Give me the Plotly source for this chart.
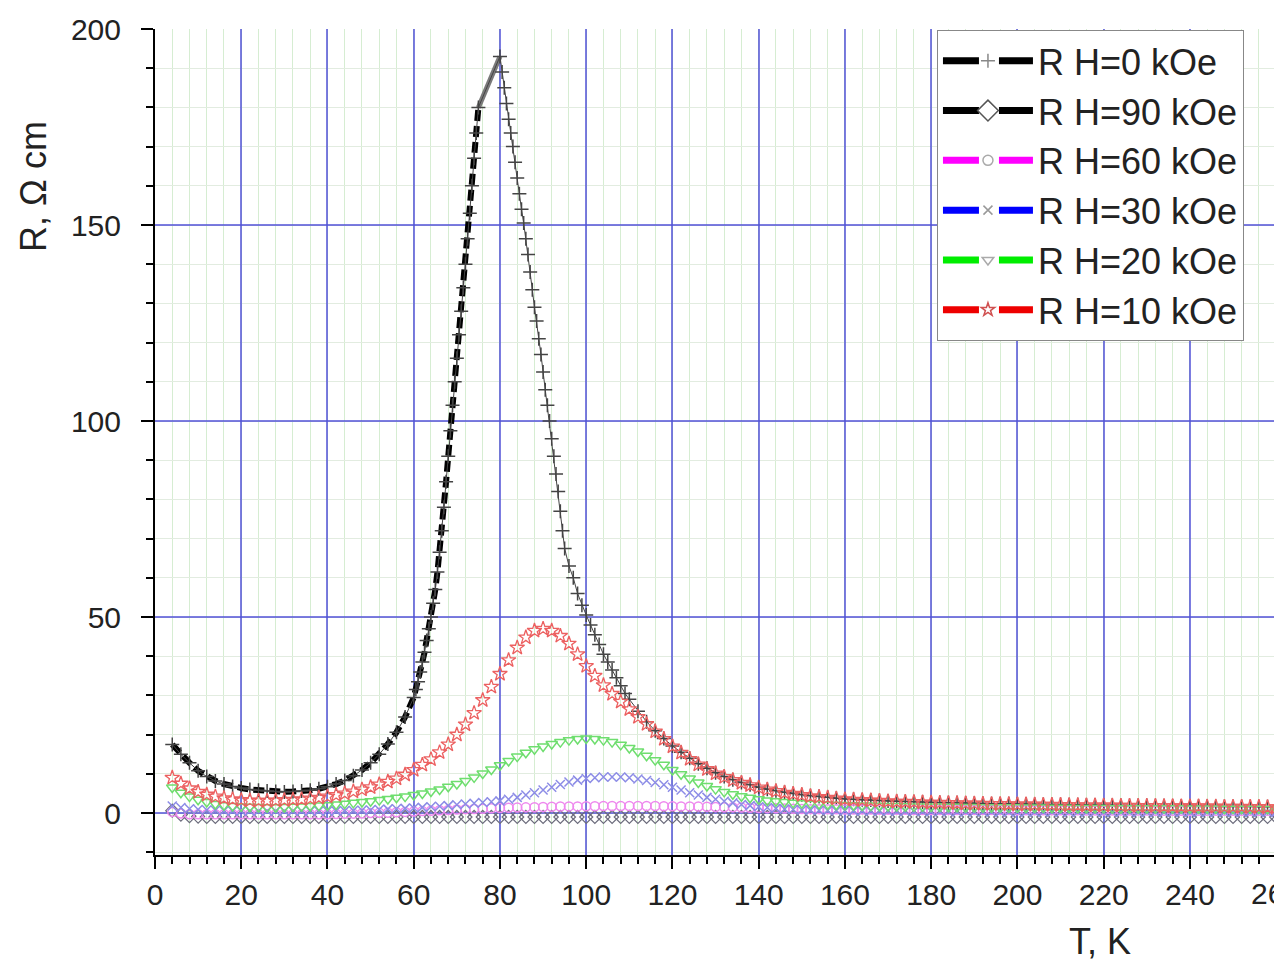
import plotly.graph_objects as go

# ---------------- data ----------------
# temperature grid (K) for the field-on curves
T = [4, 6, 8, 10, 12, 14, 16, 18, 20, 22,
     24, 26, 28, 30, 32, 34, 36, 38, 40, 42,
     44, 46, 48, 50, 52, 54, 56, 58, 60, 62,
     64, 66, 68, 70, 72, 74, 76, 78, 80, 82,
     84, 86, 88, 90, 92, 94, 96, 98, 100, 102,
     104, 106, 108, 110, 112, 114, 116, 118, 120, 122,
     124, 126, 128, 130, 132, 134, 136, 138, 140, 142,
     144, 146, 148, 150, 152, 154, 156, 158, 160, 162,
     164, 166, 168, 170, 172, 174, 176, 178, 180, 182,
     184, 186, 188, 190, 192, 194, 196, 198, 200, 202,
     204, 206, 208, 210, 212, 214, 216, 218, 220, 222,
     224, 226, 228, 230, 232, 234, 236, 238, 240, 242,
     244, 246, 248, 250, 252, 254, 256, 258, 260]

R_H90 = [0.6, -0.4, -0.8, -0.9, -1.0, -1.0, -1.0, -1.0, -1.0, -1.0,
         -1.0, -1.0, -1.0, -1.0, -1.0, -1.0, -1.0, -1.0, -1.0, -1.0,
         -1.0, -1.0, -1.0, -1.0, -1.0, -1.0, -1.0, -1.0, -1.0, -1.0,
         -1.0, -1.0, -1.0, -1.0, -1.0, -1.0, -1.0, -1.0, -1.0, -1.0,
         -1.0, -1.0, -1.0, -1.0, -1.0, -1.0, -1.0, -1.0, -1.0, -1.0,
         -1.0, -1.0, -1.0, -1.0, -1.0, -1.0, -1.0, -1.0, -1.0, -1.0,
         -1.0, -1.0, -1.0, -1.0, -1.0, -1.0, -1.0, -1.0, -1.0, -1.0,
         -1.0, -1.0, -1.0, -1.0, -1.0, -1.0, -1.0, -1.0, -1.0, -1.0,
         -1.0, -1.0, -1.0, -1.0, -1.0, -1.0, -1.0, -1.0, -1.0, -1.0,
         -1.0, -1.0, -1.0, -1.0, -1.0, -1.0, -1.0, -1.0, -1.0, -1.0,
         -1.0, -1.0, -1.0, -1.0, -1.0, -1.0, -1.0, -1.0, -1.0, -1.0,
         -1.0, -1.0, -1.0, -1.0, -1.0, -1.0, -1.0, -1.0, -1.0, -1.0,
         -1.0, -1.0, -1.0, -1.0, -1.0, -1.0, -1.0, -1.0, -1.0]

R_H60 = [0.3, -0.1, -0.3, -0.3, -0.3, -0.3, -0.3, -0.3, -0.3, -0.3,
         -0.3, -0.3, -0.3, -0.3, -0.3, -0.3, -0.3, -0.3, -0.3, -0.25,
         -0.2, -0.15, -0.1, 0.0, 0.05, 0.1, 0.2, 0.3, 0.4, 0.5,
         0.6, 0.7, 0.8, 0.9, 1.0, 1.05, 1.1, 1.2, 1.3, 1.35,
         1.4, 1.45, 1.5, 1.55, 1.6, 1.65, 1.7, 1.7, 1.75, 1.75,
         1.8, 1.8, 1.8, 1.8, 1.8, 1.8, 1.8, 1.75, 1.75, 1.7,
         1.7, 1.65, 1.6, 1.55, 1.5, 1.45, 1.4, 1.35, 1.3, 1.25,
         1.2, 1.15, 1.1, 1.05, 1.0, 1.0, 0.95, 0.95, 0.9, 0.9,
         0.9, 0.9, 0.85, 0.85, 0.85, 0.85, 0.8, 0.8, 0.8, 0.8,
         0.8, 0.8, 0.75, 0.75, 0.75, 0.75, 0.75, 0.75, 0.7, 0.7,
         0.7, 0.7, 0.7, 0.7, 0.7, 0.7, 0.65, 0.65, 0.65, 0.65,
         0.65, 0.65, 0.65, 0.65, 0.6, 0.6, 0.6, 0.6, 0.6, 0.6,
         0.6, 0.6, 0.6, 0.6, 0.6, 0.6, 0.6, 0.6, 0.6]

R_H30 = [1.8, 1.4, 1.1, 0.9, 0.8, 0.7, 0.6, 0.55, 0.5, 0.5,
         0.5, 0.5, 0.5, 0.5, 0.5, 0.5, 0.5, 0.5, 0.5, 0.55,
         0.6, 0.65, 0.7, 0.8, 0.9, 1.0, 1.1, 1.2, 1.3, 1.45,
         1.6, 1.75, 1.9, 2.1, 2.3, 2.5, 2.7, 2.9, 3.1, 3.5,
         4.0, 4.6, 5.2, 5.9, 6.6, 7.3, 7.9, 8.4, 8.8, 9.0,
         9.2, 9.2, 9.2, 9.0, 8.7, 8.3, 7.8, 7.2, 6.6, 5.9,
         5.2, 4.6, 4.0, 3.5, 3.0, 2.6, 2.2, 1.9, 1.6, 1.4,
         1.2, 1.0, 0.9, 0.8, 0.75, 0.7, 0.65, 0.6, 0.6, 0.55,
         0.55, 0.5, 0.5, 0.5, 0.45, 0.45, 0.45, 0.4, 0.4, 0.4,
         0.4, 0.35, 0.35, 0.35, 0.35, 0.3, 0.3, 0.3, 0.3, 0.3,
         0.3, 0.3, 0.25, 0.25, 0.25, 0.25, 0.25, 0.25, 0.2, 0.2,
         0.2, 0.2, 0.2, 0.2, 0.2, 0.2, 0.2, 0.2, 0.2, 0.2,
         0.2, 0.2, 0.2, 0.2, 0.2, 0.2, 0.2, 0.2, 0.2]

R_H20 = [6.5, 5.2, 4.2, 3.4, 2.8, 2.3, 2.0, 1.8, 1.7, 1.6,
         1.55, 1.5, 1.5, 1.55, 1.6, 1.7, 1.8, 1.9, 2.0, 2.2,
         2.4, 2.6, 2.8, 3.0, 3.3, 3.6, 3.9, 4.2, 4.6, 5.0,
         5.5, 6.0, 6.7, 7.4, 8.2, 9.1, 10.1, 11.1, 12.2, 13.3,
         14.4, 15.4, 16.3, 17.0, 17.6, 18.1, 18.6, 18.9, 19.0, 18.9,
         18.6, 18.1, 17.4, 16.6, 15.7, 14.6, 13.5, 12.3, 11.0, 9.9,
         8.8, 7.8, 6.9, 6.1, 5.4, 4.8, 4.3, 3.9, 3.5, 3.2,
         3.0, 2.8, 2.6, 2.5, 2.4, 2.3, 2.2, 2.1, 2.05, 2.0,
         1.95, 1.9, 1.85, 1.8, 1.8, 1.75, 1.7, 1.7, 1.65, 1.65,
         1.6, 1.6, 1.55, 1.55, 1.5, 1.5, 1.5, 1.45, 1.45, 1.4,
         1.4, 1.4, 1.35, 1.35, 1.35, 1.3, 1.3, 1.3, 1.3, 1.25,
         1.25, 1.25, 1.25, 1.2, 1.2, 1.2, 1.2, 1.2, 1.15, 1.15,
         1.15, 1.15, 1.1, 1.1, 1.1, 1.1, 1.1, 1.05, 1.05]

R_H10 = [9.0, 7.5, 6.3, 5.4, 4.7, 4.2, 3.8, 3.5, 3.3, 3.2,
         3.1, 3.1, 3.2, 3.3, 3.4, 3.5, 3.7, 3.9, 4.2, 4.6,
         5.0, 5.5, 6.0, 6.6, 7.3, 8.0, 8.8, 9.8, 11.0, 12.3,
         13.7, 15.5, 17.5, 20.0, 22.6, 25.5, 28.8, 32.2, 35.5, 39.0,
         42.2, 44.8, 46.5, 47.0, 46.5, 45.2, 43.2, 40.5, 37.5, 35.0,
         32.6, 30.4, 28.4, 26.5, 24.5, 22.7, 20.8, 18.9, 17.0, 15.4,
         13.8, 12.4, 11.2, 10.1, 9.2, 8.4, 7.7, 7.1, 6.5, 6.0,
         5.6, 5.2, 4.9, 4.6, 4.3, 4.1, 3.9, 3.7, 3.5, 3.4,
         3.3, 3.2, 3.1, 3.0, 2.9, 2.85, 2.8, 2.7, 2.65, 2.6,
         2.55, 2.5, 2.45, 2.4, 2.35, 2.3, 2.3, 2.25, 2.2, 2.2,
         2.15, 2.1, 2.1, 2.05, 2.0, 2.0, 1.95, 1.95, 1.9, 1.9,
         1.85, 1.85, 1.8, 1.8, 1.8, 1.75, 1.75, 1.7, 1.7, 1.7,
         1.65, 1.65, 1.6, 1.6, 1.6, 1.55, 1.55, 1.5, 1.5]

# zero-field curve has its own (denser around the peak) temperature grid
T_H0 = [4, 6, 8, 10, 12, 14, 16, 18, 20, 22,
        24, 26, 28, 30, 32, 34, 36, 38, 40, 42,
        44, 46, 48, 50, 52, 54, 56, 58,
        60, 60.5, 61, 61.5, 62, 62.5, 63, 63.5, 64, 64.5,
        65, 65.5, 66, 66.5, 67, 67.5, 68, 68.5, 69, 69.5,
        70, 70.5, 71, 71.5, 72, 72.5, 73, 73.5, 74, 74.5, 75,
        80, 80.5, 81, 81.5, 82, 82.5, 83, 83.5, 84, 84.5,
        85, 85.5, 86, 86.5, 87, 87.5, 88, 88.5, 89, 89.5,
        90, 90.5, 91, 91.5, 92, 92.5, 93, 93.5, 94, 94.5, 95,
        96, 97, 98, 99, 100, 101, 102, 103, 104, 105,
        106, 107, 108, 109, 110,
        112, 114, 116, 118, 120, 122, 124, 126, 128, 130,
        132, 134, 136, 138, 140, 142, 144, 146, 148, 150,
        152, 154, 156, 158, 160, 162, 164, 166, 168, 170,
        172, 174, 176, 178, 180, 182, 184, 186, 188, 190,
        192, 194, 196, 198, 200, 202, 204, 206, 208, 210,
        212, 214, 216, 218, 220, 222, 224, 226, 228, 230,
        232, 234, 236, 238, 240, 242, 244, 246, 248, 250,
        252, 254, 256, 258, 260]

R_H0 = [17.5, 15.0, 12.8, 10.8, 9.3, 8.2, 7.4, 6.8, 6.4, 6.0,
        5.8, 5.6, 5.5, 5.4, 5.5, 5.6, 5.8, 6.2, 6.7, 7.4,
        8.3, 9.5, 11.0, 12.8, 15.0, 17.6, 20.6, 24.5,
        29.5, 31.5, 33.5, 36.0, 38.5, 41.0, 44.0, 47.0, 50.0, 53.5,
        57.0, 61.5, 66.5, 72.0, 78.0, 84.5, 91.0, 97.5, 104.0, 110.0,
        116.0, 122.0, 128.0, 134.0, 140.0, 146.5, 153.0, 160.0, 167.0, 173.5, 180.0,
        193.0, 189.0, 185.0, 181.0, 177.0, 173.5, 170.0, 166.0, 162.0, 158.0,
        154.0, 150.5, 146.5, 142.5, 138.0, 133.5, 129.0, 125.5, 121.0, 117.0,
        112.5, 108.0, 104.0, 100.0, 95.5, 91.0, 86.5, 82.0, 77.0, 72.0, 67.5,
        63.0, 60.0, 56.0, 53.0, 50.5, 48.0, 45.5, 43.0, 40.5, 38.5,
        36.5, 34.5, 32.5, 30.5, 29.0,
        26.0, 23.3, 21.0, 19.0, 17.1, 15.5, 14.0, 12.6, 11.4, 10.3,
        9.3, 8.5, 7.8, 7.2, 6.6, 6.1, 5.7, 5.3, 5.0, 4.7,
        4.4, 4.2, 4.0, 3.8, 3.6, 3.5, 3.4, 3.3, 3.2, 3.1,
        3.0, 2.95, 2.9, 2.8, 2.75, 2.7, 2.65, 2.6, 2.55, 2.5,
        2.45, 2.4, 2.4, 2.35, 2.3, 2.3, 2.25, 2.2, 2.2, 2.15,
        2.1, 2.1, 2.05, 2.05, 2.0, 2.0, 1.95, 1.95, 1.9, 1.9,
        1.85, 1.85, 1.8, 1.8, 1.8, 1.75, 1.75, 1.7, 1.7, 1.7,
        1.65, 1.65, 1.6, 1.6, 1.6]

LABELS = ["R H=0 kOe", "R H=90 kOe", "R H=60 kOe",
          "R H=30 kOe", "R H=20 kOe", "R H=10 kOe"]

X_TICKS = [0, 20, 40, 60, 80, 100, 120, 140, 160, 180, 200, 220, 240]
Y_TICKS = [0, 50, 100, 150, 200]

# ---------------- figure ----------------
FONT = "Liberation Sans, Arial, sans-serif"
fig = go.Figure()

# zero-field curve: thick dashed line on the low-T / rising branch
n_rise = T_H0.index(75) + 1
fig.add_trace(go.Scatter(
    x=T_H0[:n_rise], y=R_H0[:n_rise], mode="lines",
    line=dict(color="black", width=6, dash="11px,5px"),
    showlegend=False, hoverinfo="skip"))
fig.add_trace(go.Scatter(
    x=T_H0[n_rise - 1:n_rise + 1], y=R_H0[n_rise - 1:n_rise + 1], mode="lines",
    line=dict(color="#7a7a7a", width=5),
    showlegend=False, hoverinfo="skip"))
fig.add_trace(go.Scatter(
    x=T_H0, y=R_H0, mode="lines+markers",
    line=dict(color="#444444", width=1),
    marker=dict(symbol="cross-thin-open", size=10,
                line=dict(color="#333333", width=1.5)),
    showlegend=False))

series = [
    (R_H90, "diamond-open", 10, "#6c6c7c", 1.2),
    (R_H60, "circle-open", 9, "#ee88ee", 1.5),
    (R_H30, "x-thin-open", 9, "#8c8ce6", 1.5),
    (R_H20, "triangle-down-open", 10, "#6ede6e", 1.5),
    (R_H10, "star-open", 11, "#ec6060", 1.3),
]
for vals, sym, sz, col, lw in series:
    fig.add_trace(go.Scatter(
        x=T, y=vals, mode="markers",
        marker=dict(symbol=sym, size=sz, color=col, line=dict(color=col, width=lw)),
        showlegend=False))

# legend entries
leg_style = [
    ("black", "cross-thin-open", 10, "#888888", None),
    ("black", "diamond", 16, "#555555", "white"),
    ("#ff00ff", "circle-open", 10, "#aaaaaa", None),
    ("#0000ff", "x-thin-open", 9, "#999999", None),
    ("#00ee00", "triangle-down-open", 10, "#aaaaaa", None),
    ("#ee0000", "star-open", 10, "#d05050", None),
]
for name, (lc, sym, sz, mc, fill) in zip(LABELS, leg_style):
    fig.add_trace(go.Scatter(
        x=[None], y=[None], mode="lines+markers", name=name,
        line=dict(color=lc, width=7, dash="36px,20px"),
        marker=dict(symbol=sym, size=sz, color=fill if fill else mc,
                    line=dict(color=mc, width=1.5)),
        showlegend=True))

axis_common = dict(
    showgrid=True, gridcolor="rgba(80,80,215,0.75)", gridwidth=1.5,
    showline=True, linecolor="black", linewidth=2,
    ticks="outside", ticklen=12, tickwidth=2, tickcolor="black",
    zeroline=False, tickfont=dict(size=30, color="#222222", family=FONT),
)

fig.update_xaxes(range=[0, 259.5], tickvals=X_TICKS, ticklabelstandoff=0,
                 minor=dict(dtick=4, tick0=0, ticks="outside", ticklen=7,
                            tickwidth=2, tickcolor="black", showgrid=True,
                            gridcolor="#d6edd2", gridwidth=1),
                 **axis_common)
fig.update_yaxes(range=[-10.7, 200], tickvals=Y_TICKS, ticklabelstandoff=14,
                 minor=dict(dtick=10, tick0=0, ticks="outside", ticklen=7,
                            tickwidth=2, tickcolor="black", showgrid=True,
                            gridcolor="#e2ece0", gridwidth=1),
                 **axis_common)

fig.update_layout(
    width=1274, height=962,
    margin=dict(l=155, r=0, t=29, b=107),
    paper_bgcolor="white", plot_bgcolor="white",
    font=dict(family=FONT, size=30, color="#222222"),
    legend=dict(x=0.6988, y=0.999, xanchor="left", yanchor="top",
                bgcolor="white", bordercolor="#888888", borderwidth=1,
                font=dict(size=36, color="#222222", family=FONT),
                itemwidth=90, tracegroupgap=0, traceorder="normal"),
    annotations=[
        dict(text="R, \u03a9 cm", xref="paper", yref="paper",
             x=(33 - 155) / 1119, y=(855 - 187) / 826,
             xanchor="center", yanchor="middle", textangle=-90, showarrow=False,
             font=dict(size=36, color="#222222", family=FONT)),
        dict(text="T, K", xref="paper", yref="paper",
             x=(1100 - 155) / 1119, y=(855 - 941) / 826,
             xanchor="center", yanchor="middle", showarrow=False,
             font=dict(size=36, color="#222222", family=FONT)),
        dict(text="260", xref="paper", yref="paper",
             x=(1276 - 155) / 1119, y=(855 - 893) / 826,
             xanchor="center", yanchor="middle", showarrow=False,
             font=dict(size=30, color="#222222", family=FONT)),
    ],
)

fig.write_html("out.html")
